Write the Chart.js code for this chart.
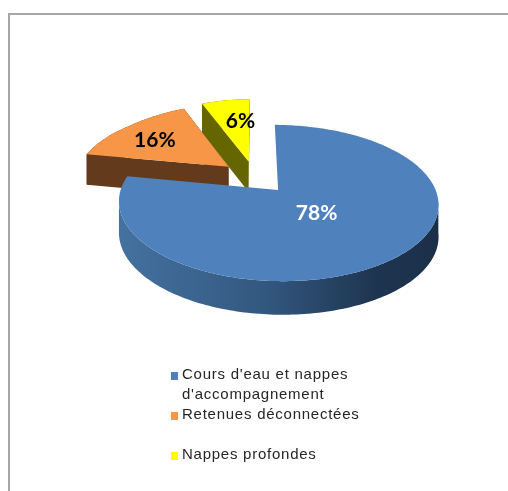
<!DOCTYPE html>
<html lang="fr">
<head>
<meta charset="utf-8">
<title>Origine des prélèvements</title>
<script src="https://cdn.jsdelivr.net/npm/chart.js@4"></script>
<style>
  html, body { margin: 0; padding: 0; background: #fff; overflow: hidden; }
  #cadre { position: absolute; left: 8px; top: 13px; width: 500px; height: 478px;
           border-top: 2px solid #a6a6a6; border-left: 2px solid #a6a6a6; box-sizing: border-box; }
  canvas { position: absolute; left: 0; top: 0; filter: blur(0.4px); }
</style>
</head>
<body>
<div id="cadre"></div>
<canvas id="graphique" width="508" height="491"></canvas>
<script>
const categories = ["Cours d'eau et nappes d'accompagnement", "Retenues déconnectées", "Nappes profondes"];
const valeurs = [78, 16, 6];
const couleurs = ["#4f81bd", "#f79646", "#ffff00"];
const couleursFlanc = ["#2f5075", "#633a1c", "#666600"];
const couleursTexte = ["#ffffff", "#000000", "#000000"];
const rayonsEtiquette = [0.32, 0.6, 0.58];
const decalagesEtiquette = [[4, 4], [-10, -2], [6, -5]];

// Projection en perspective du disque vers l'écran
const vue = { cx: 255, cy: 177, a: 71.6, b: 153, k: -0.162 };

function projeter(U, V) {
    const den = 1 + vue.k * V;
    // au fond du disque la perspective s'écrase moins en hauteur
    const denY = 1 + vue.k * Math.max(V, -0.8);
    const x = vue.cx + vue.b * U / den;
    const y = vue.cy + vue.a * V / denY;
    return { x, y, fond: y + 20 + 11 / den };
}

// Contour d'une part, en coordonnées du disque (rayon 1)
function contour(arc) {
    const p = arc.getProps(["startAngle", "endAngle", "outerRadius"]);
    const milieu = (p.startAngle + p.endAngle) / 2;
    const e = arc.options.offset / p.outerRadius;
    const ox = Math.cos(milieu) * e;
    const oy = Math.sin(milieu) * e;
    const bord = [];
    const pas = Math.ceil((p.endAngle - p.startAngle) / 0.02);
    for (let i = 0; i <= pas; i++) {
        const t = p.startAngle + (p.endAngle - p.startAngle) * i / pas;
        bord.push(projeter(ox + Math.cos(t), oy + Math.sin(t)));
    }
    return { sommet: projeter(ox, oy), bord, ox, oy, milieu };
}

function remplir(ctx, points, couleur) {
    ctx.fillStyle = couleur;
    ctx.beginPath();
    points.forEach((pt, i) => i ? ctx.lineTo(pt.x, pt.y) : ctx.moveTo(pt.x, pt.y));
    ctx.closePath();
    ctx.fill();
}

function flanc(a, b) {
    return [{ x: a.x, y: a.y }, { x: b.x, y: b.y }, { x: b.x, y: b.fond }, { x: a.x, y: a.fond }];
}

const camembert3d = {
    id: "camembert3d",
    beforeDatasetsDraw() {
        return false;
    },
    afterDraw(chart) {
        const ctx = chart.ctx;
        const arcs = chart.getDatasetMeta(0).data;
        // Du fond vers l'avant : profondes, retenues, cours d'eau
        [2, 1, 0].forEach(i => {
            const c = contour(arcs[i]);
            let couleur = couleursFlanc[i];
            let visibles = c.bord;
            if (i === 0) {
                couleur = ctx.createLinearGradient(122, 0, 438, 0);
                couleur.addColorStop(0, "#44719f");
                couleur.addColorStop(0.45, "#335880");
                couleur.addColorStop(0.8, "#1e3550");
                couleur.addColorStop(1, "#1b2f48");
                // seul l'avant du disque montre son flanc
                visibles = c.bord.filter(pt => pt.y > c.sommet.y + 10);
            }
            // flanc extérieur d'un seul tenant, sinon on voit les raccords
            const bas = visibles.map(pt => ({ x: pt.x, y: pt.fond })).reverse();
            remplir(ctx, [...visibles, ...bas], couleur);
            if (i !== 0) {
                remplir(ctx, flanc(c.sommet, c.bord[0]), couleur);
                remplir(ctx, flanc(c.sommet, c.bord[c.bord.length - 1]), couleur);
            }
            remplir(ctx, [c.sommet, ...c.bord], couleurs[i]);
        });
        // Pourcentages
        ctx.font = "bold 21px Lato";
        ctx.textAlign = "center";
        ctx.textBaseline = "middle";
        arcs.forEach((arc, i) => {
            const c = contour(arc);
            const r = rayonsEtiquette[i];
            const pos = projeter(c.ox + Math.cos(c.milieu) * r, c.oy + Math.sin(c.milieu) * r);
            ctx.fillStyle = couleursTexte[i];
            ctx.fillText(valeurs[i] + "%", pos.x + decalagesEtiquette[i][0], pos.y + decalagesEtiquette[i][1]);
        });
        dessinerLegende(ctx);
    }
};

// Légende à la main : le libellé long passe sur deux lignes
function dessinerLegende(ctx) {
    ctx.font = "15px 'Liberation Sans'";
    ctx.letterSpacing = "0.75px";
    ctx.textAlign = "left";
    ctx.textBaseline = "middle";
    const lignes = [["Cours d'eau et nappes", "d'accompagnement"], [categories[1]], [categories[2]]];
    const hauteurs = [375, 415, 455];
    lignes.forEach((texte, i) => {
        ctx.fillStyle = couleurs[i];
        ctx.fillRect(171, hauteurs[i] - 3, 7, 8);
        ctx.fillStyle = "#262626";
        texte.forEach((l, n) => ctx.fillText(l, 182, hauteurs[i] + n * 19.5));
    });
    ctx.letterSpacing = "0px";
}

new Chart(document.getElementById("graphique"), {
    type: "pie",
    data: {
        labels: categories,
        datasets: [{
            data: valeurs,
            backgroundColor: couleurs,
            borderWidth: 0,
            offset: 23
        }]
    },
    options: {
        responsive: false,
        animation: false,
        radius: 100,
        plugins: { legend: { display: false }, tooltip: { enabled: false } }
    },
    plugins: [camembert3d]
});
</script>
</body>
</html>
